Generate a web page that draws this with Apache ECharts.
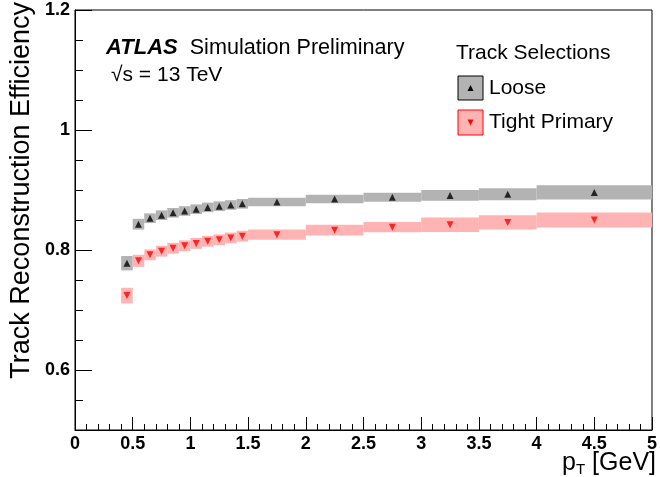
<!DOCTYPE html>
<html>
<head>
<meta charset="utf-8" />
<title>Track Reconstruction Efficiency</title>
<script src="https://cdn.jsdelivr.net/npm/echarts@6/dist/echarts.min.js"></script>
<style>
  body { margin: 0; padding: 0; background: #fff; }
  #chart { width: 660px; height: 477px; }
</style>
</head>
<body>
<div id="chart"></div>
<script>
// bins in pT [GeV]
var binLo     = [0.4, 0.5, 0.6, 0.7, 0.8, 0.9, 1.0, 1.1, 1.2, 1.3, 1.4, 1.5, 2.0, 2.5, 3.0, 3.5, 4.0];
var binHi     = [0.5, 0.6, 0.7, 0.8, 0.9, 1.0, 1.1, 1.2, 1.3, 1.4, 1.5, 2.0, 2.5, 3.0, 3.5, 4.0, 5.0];
var binCenter = [0.45, 0.55, 0.65, 0.75, 0.85, 0.95, 1.05, 1.15, 1.25, 1.35, 1.45, 1.75, 2.25, 2.75, 3.25, 3.75, 4.5];

var looseEff = [0.778, 0.843, 0.853, 0.858, 0.862, 0.865, 0.868, 0.871, 0.873, 0.875, 0.877, 0.880, 0.885, 0.888, 0.891, 0.893, 0.896];
var looseErr = [0.012, 0.009, 0.008, 0.008, 0.008, 0.008, 0.008, 0.008, 0.008, 0.008, 0.008, 0.007, 0.007, 0.0075, 0.009, 0.010, 0.012];
var tightEff = [0.724, 0.782, 0.792, 0.798, 0.803, 0.807, 0.811, 0.8145, 0.817, 0.820, 0.823, 0.8255, 0.833, 0.838, 0.842, 0.846, 0.850];
var tightErr = [0.013, 0.010, 0.009, 0.009, 0.009, 0.009, 0.009, 0.009, 0.009, 0.009, 0.009, 0.0085, 0.009, 0.0085, 0.012, 0.012, 0.0125];

var yLabelValues = [0.6, 0.8, 1.0, 1.2];
var yMinorValues = [0.55, 0.65, 0.7, 0.75, 0.85, 0.9, 0.95, 1.05, 1.1, 1.15];

var FONT = 'Liberation Sans';
var grayBand = '#b3b3b3';
var redBand = '#ffb3b3';

function boxData(eff, err) {
    var out = [];
    for (var i = 0; i < eff.length; i++) out.push([binLo[i], binHi[i], eff[i], err[i]]);
    return out;
}
function pointData(eff) {
    var out = [];
    for (var i = 0; i < eff.length; i++) out.push([binCenter[i], eff[i]]);
    return out;
}
function boxRenderer(color) {
    return function (params, api) {
        var lo = api.value(0), hi = api.value(1), y = api.value(2), e = api.value(3);
        var p1 = api.coord([lo, y + e]);
        var p2 = api.coord([hi, y - e]);
        return {
            type: 'rect',
            shape: { x: p1[0], y: p1[1], width: p2[0] - p1[0], height: p2[1] - p1[1] },
            style: { fill: color }
        };
    };
}

var chart = echarts.init(document.getElementById('chart'));
chart.setOption({
    animation: false,
    textStyle: { fontFamily: FONT },
    grid: { left: 75, right: 4, top: 10, bottom: 47, show: true, borderColor: '#000', borderWidth: 1, backgroundColor: 'transparent' },
    xAxis: {
        type: 'value', min: 0, max: 5, interval: 0.5,
        axisLine: { lineStyle: { color: '#000', width: 1 } },
        axisTick: { inside: true, length: 13, lineStyle: { color: '#000' } },
        minorTick: { show: true, splitNumber: 5, length: 6, lineStyle: { color: '#000' } },
        axisLabel: { color: '#000', fontWeight: 'bold', fontSize: 18, margin: 5 },
        splitLine: { show: false }
    },
    yAxis: [{
        type: 'value', min: 0.5, max: 1.2, position: 'left',
        axisLine: { lineStyle: { color: '#000', width: 1 } },
        axisTick: { inside: true, length: 17, customValues: yLabelValues, lineStyle: { color: '#000' } },
        axisLabel: { color: '#000', fontWeight: 'bold', fontSize: 18, margin: 5, customValues: yLabelValues },
        splitLine: { show: false }
    }, {
        type: 'value', min: 0.5, max: 1.2, position: 'left',
        axisLine: { show: false },
        axisTick: { inside: true, length: 8, customValues: yMinorValues, lineStyle: { color: '#000' } },
        axisLabel: { show: false },
        splitLine: { show: false }
    }],
    series: [{
        name: 'Loose band', type: 'custom', renderItem: boxRenderer(grayBand),
        data: boxData(looseEff, looseErr), encode: { x: [0, 1], y: [2] }, z: 1
    }, {
        name: 'Tight band', type: 'custom', renderItem: boxRenderer(redBand),
        data: boxData(tightEff, tightErr), encode: { x: [0, 1], y: [2] }, z: 1
    }, {
        name: 'Loose', type: 'scatter', symbol: 'triangle', symbolSize: 7,
        itemStyle: { color: '#000' }, data: pointData(looseEff), z: 3
    }, {
        name: 'Tight Primary', type: 'scatter', symbol: 'triangle', symbolSize: 7, symbolRotate: 180,
        itemStyle: { color: '#ff0000' }, data: pointData(tightEff), z: 3
    }],
    graphic: [
        // y axis title
        { type: 'text', x: 22, y: 2, rotation: Math.PI / 2,
          style: { text: 'Track Reconstruction Efficiency', font: '27px "Liberation Sans"', fill: '#000',
                   textAlign: 'right', textVerticalAlign: 'middle' } },
        // x axis title
        { type: 'text', x: 656, y: 463,
          style: { text: '{p|p}{s|T}{p| [GeV]}', textAlign: 'right', textVerticalAlign: 'middle',
                   rich: { p: { fontSize: 25, fontFamily: FONT, fill: '#000' },
                           s: { fontSize: 15, fontFamily: FONT, fill: '#000', padding: [14, 0, 0, 0] } } } },
        // ATLAS label
        { type: 'text', x: 106, y: 48,
          style: { text: '{a|ATLAS}{n|  Simulation Preliminary}', textVerticalAlign: 'middle',
                   rich: { a: { fontSize: 22, fontWeight: 'bold', fontStyle: 'italic', fontFamily: FONT, fill: '#000' },
                           n: { fontSize: 21.6, fontFamily: FONT, fill: '#000' } } } },
        { type: 'text', x: 111, y: 75,
          style: { text: '\u221As = 13 TeV', font: '21px "Liberation Sans"', fill: '#000', textVerticalAlign: 'middle' } },
        // legend
        { type: 'text', x: 456, y: 53,
          style: { text: 'Track Selections', font: '21px "Liberation Sans"', fill: '#000', textVerticalAlign: 'middle' } },
        { type: 'rect', shape: { x: 458, y: 76, width: 25, height: 24 },
          style: { fill: grayBand, stroke: '#000', lineWidth: 1 } },
        { type: 'polygon', shape: { points: [[470.5, 85], [467.5, 91], [473.5, 91]] }, style: { fill: '#000' } },
        { type: 'text', x: 489, y: 88,
          style: { text: 'Loose', font: '21px "Liberation Sans"', fill: '#000', textVerticalAlign: 'middle' } },
        { type: 'rect', shape: { x: 458, y: 110, width: 25, height: 25 },
          style: { fill: redBand, stroke: '#ff0000', lineWidth: 1 } },
        { type: 'polygon', shape: { points: [[467.5, 119.5], [473.5, 119.5], [470.5, 125.5]] }, style: { fill: '#ff0000' } },
        { type: 'text', x: 489, y: 122,
          style: { text: 'Tight Primary', font: '21px "Liberation Sans"', fill: '#000', textVerticalAlign: 'middle' } }
    ]
});
</script>
</body>
</html>
